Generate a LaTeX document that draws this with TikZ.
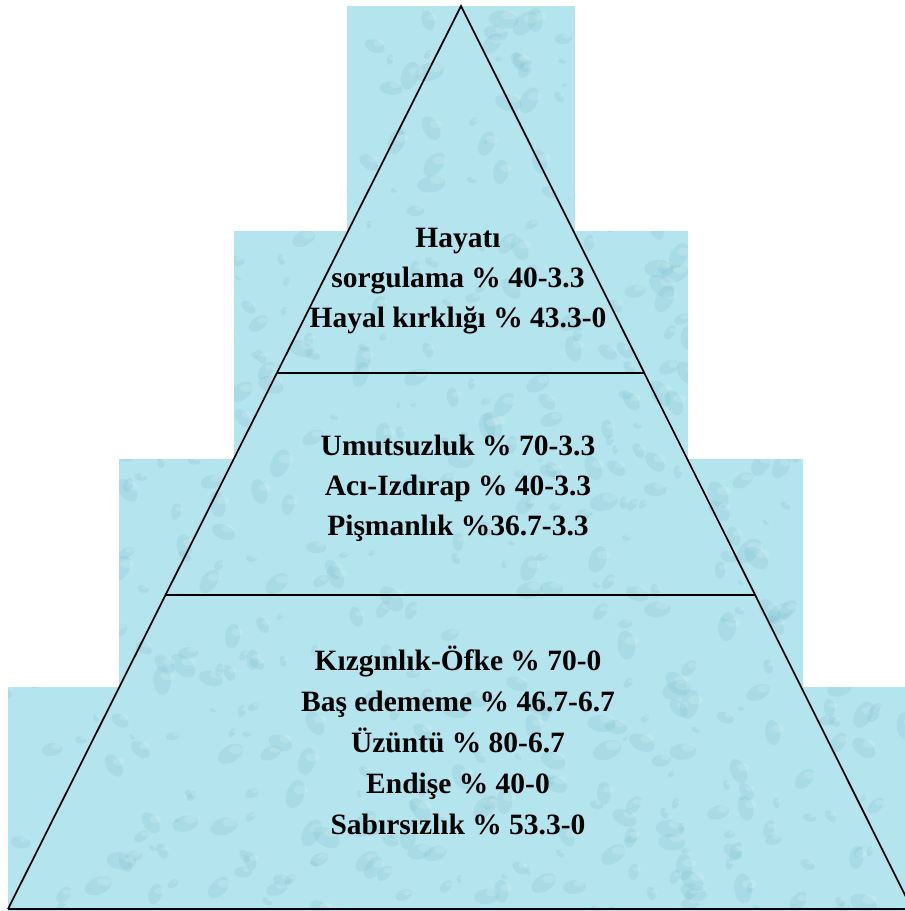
\documentclass[tikz,border=0pt]{standalone}
\usepackage{fontspec}
\setmainfont{Liberation Serif}
\usetikzlibrary{calc}
\definecolor{water}{RGB}{180,228,237}
\definecolor{drop}{RGB}{110,178,200}
\tikzstyle{levelText} = [font=\bfseries\fontsize{29.5}{40}\selectfont,
    align=center, text=black, inner sep=0pt]
\tikzstyle{sideLine} = [line width=1.7pt, black]
\tikzstyle{stepLine} = [line width=2.6pt, black]
\def\steps{(347,6) -- (575,6) -- (575,231) -- (688,231) -- (688,459)
    -- (803,459) -- (803,687) -- (905,687) -- (905,911) -- (8,911)
    -- (8,687) -- (119,687) -- (119,459) -- (234,459) -- (234,231)
    -- (347,231) -- cycle}

\begin{document}
\begin{tikzpicture}[x=1pt,y=-1pt]
\useasboundingbox (0,0) rectangle (905,911);
% stepped water background
\fill[water] \steps;
\begin{scope}
\clip \steps;
\pgfmathsetseed{17}
\foreach \i in {1,...,700}{
    \pgfmathsetmacro{\px}{rnd*905}
    \pgfmathsetmacro{\py}{rnd*911}
    \pgfmathsetmacro{\pr}{3+rnd*12}
    \pgfmathsetmacro{\pa}{rnd*180}
    \fill[drop, opacity=0.17, rotate around={\pa:(\px,\py)}] (\px,\py) ellipse ({\pr} and {0.6*\pr});
    \fill[white, opacity=0.14] (\px+0.4*\pr,\py-0.3*\pr) ellipse ({0.5*\pr} and {0.3*\pr});
}
\end{scope}

\coordinate (apex) at (461,6);
\coordinate (baseL) at (8,909);
\coordinate (baseR) at (912,909);
\coordinate (cutAL) at ($(apex)!0.4064!(baseL)$);
\coordinate (cutAR) at ($(apex)!0.4064!(baseR)$);
\coordinate (cutBL) at ($(apex)!0.6523!(baseL)$);
\coordinate (cutBR) at ($(apex)!0.6523!(baseR)$);

\draw[sideLine] (baseL) -- (apex) -- (baseR);
\draw[sideLine] (baseL) -- (baseR);
\draw[stepLine] (cutAL) -- (cutAR);
\draw[stepLine] (cutBL) -- (cutBR);

\node[levelText] (topLevel) at (458,281) {Hayatı\\sorgulama \% 40-3.3\\Hayal kırklığı \% 43.3-0};
\node[levelText] (midLevel) at (458,488) {Umutsuzluk \% 70-3.3\\Acı-Izdırap \% 40-3.3\\Pişmanlık \%36.7-3.3};
\node[levelText, font=\bfseries\fontsize{29.5}{41}\selectfont] (baseLevel) at (458,740)
    {Kızgınlık-Öfke \% 70-0\\Baş edememe \% 46.7-6.7\\Üzüntü \% 80-6.7\\Endişe \% 40-0\\Sabırsızlık \% 53.3-0};
\end{tikzpicture}
\end{document}
